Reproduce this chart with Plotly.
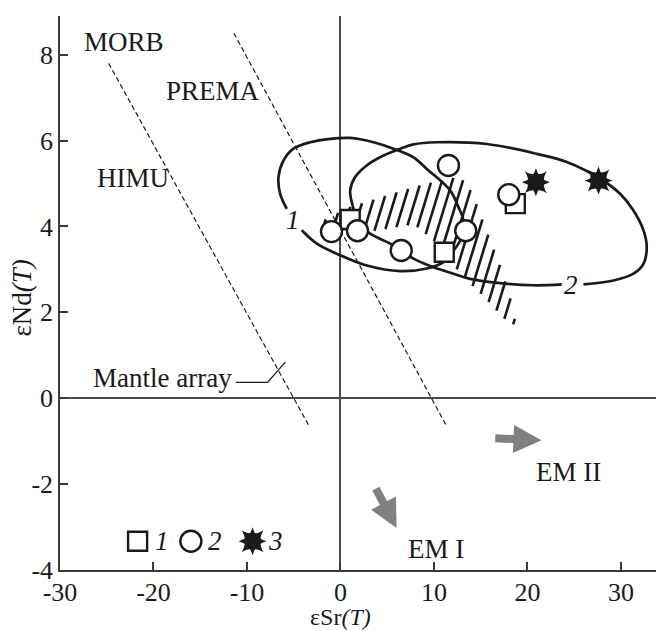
import math
import plotly.graph_objects as go

# ---------------- data ----------------
sq_x = [1.04, 11.1, 18.7]
sq_y = [4.16, 3.40, 4.53]
ci_x = [-0.96, 1.82, 6.5, 11.55, 13.4, 18.0]
ci_y = [3.88, 3.90, 3.44, 5.42, 3.90, 4.74]
st_x = [20.9, 27.6]
st_y = [5.03, 5.07]

ell1_x = [-5.74, -6.45, -6.63, -6.10, -5.03, -3.24, -1.10, 1.04, 3.53, 5.67, 7.81, 9.23,
          11.73, 12.62, 13.16, 13.16, 12.62, 11.02, 9.23, 6.39, 2.81, -0.03, -2.53, -4.14]
ell1_y = [4.41, 4.76, 5.15, 5.53, 5.81, 5.96, 6.04, 6.06, 5.96, 5.81, 5.61, 5.34,
          4.84, 4.45, 4.14, 3.83, 3.60, 3.17, 3.02, 2.96, 3.09, 3.33, 3.60, 3.91]

ell2_x = [23.67, 20.64, 17.08, 13.87, 12.09, 9.95, 7.81, 6.56, 5.32, 3.18, 1.93, 1.32, 1.04,
          1.57, 2.81, 4.60, 6.39, 7.81, 10.30, 15.65, 21.0, 24.2, 27.78, 29.91, 31.34, 32.41,
          32.76, 32.41, 31.34, 29.2, 25.99]
ell2_y = [2.65, 2.63, 2.68, 2.78, 2.90, 3.05, 3.25, 3.44, 3.60, 3.83, 4.09, 4.47, 4.84,
          5.15, 5.42, 5.65, 5.81, 5.91, 5.96, 5.92, 5.69, 5.50, 5.11, 4.76, 4.37, 3.91,
          3.52, 3.13, 2.90, 2.74, 2.65]

hatch_x = [-2.25, 0.86, 4.60, 8.88, 12.30, 13.48, 14.44, 15.72, 17.01, 18.18, 18.82,
           17.43, 15.29, 12.94, 11.87, 9.95, 7.81, 4.60, 1.93, -0.75]
hatch_y = [4.09, 4.44, 4.70, 4.98, 5.14, 5.05, 4.60, 3.86, 3.14, 2.35, 1.67,
           1.86, 2.37, 2.86, 3.16, 3.67, 4.05, 3.93, 3.84, 3.95]

morb_x = [-24.8, -3.4]
morb_y = [7.8, -0.63]
prema_x = [-11.4, 11.3]
prema_y = [8.5, -0.63]
leader_x = [-11.2, -7.8, -5.9]
leader_y = [0.37, 0.37, 0.84]

field_labels = ["MORB", "PREMA", "HIMU", "EM II", "EM I"]
field_lx = [-23.2, -13.6, -22.2, 24.4, 10.2]
field_ly = [8.3, 7.16, 5.12, -1.72, -3.51]

arrow_tail_x = [16.4, 3.7]
arrow_tail_y = [-0.93, -2.07]
arrow_tip_x = [21.5, 6.0]
arrow_tip_y = [-0.98, -3.02]

ell_labels = ["1", "2"]
ell_lx = [-5.10, 24.67]
ell_ly = [4.16, 2.63]

legend_labels = ["1", "2", "3"]
legend_mx = [-21.7, -16.0, -9.4]
legend_tx = [-19.1, -13.4, -7.0]
legend_y = -3.33

x_ticks = [-30, -20, -10, 0, 10, 20, 30]
x_ticktext = ["-30", "-20", "-10", "0", "10", "20", "30"]
y_ticks = [-4, -2, 0, 2, 4, 6, 8]
y_ticktext = ["-4", "-2", "0", "2", "4", "6", "8"]

# ---------------- layout geometry ----------------
W, H = 656, 630
ML, MR, MT, MB = 60, 0, 16, 60
XR = [-30, 33.75]
YR = [-4, 8.9]
sx = (W - ML - MR) / (XR[1] - XR[0])
sy = (H - MT - MB) / (YR[1] - YR[0])

FONT = "Liberation Serif"
INK = "#1a1a1a"
FS = 27
TFS = 26

# hatch lines clipped to the hatch polygon (computed in pixel space)
theta = math.radians(73)
spacing = 10.0
P = [(x * sx, y * sy) for x, y in zip(hatch_x, hatch_y)]
cvals = [px * math.sin(theta) - py * math.cos(theta) for px, py in P]
hx, hy = [], []
c = min(cvals) + spacing * 0.5
while c < max(cvals):
    pts = []
    n = len(P)
    for i in range(n):
        (x1, y1), (x2, y2) = P[i], P[(i + 1) % n]
        c1, c2 = cvals[i], cvals[(i + 1) % n]
        if (c1 - c) * (c2 - c) < 0:
            t = (c - c1) / (c2 - c1)
            pts.append((x1 + t * (x2 - x1), y1 + t * (y2 - y1)))
    pts.sort(key=lambda p: p[0] * math.cos(theta) + p[1] * math.sin(theta))
    for k in range(0, len(pts) - 1, 2):
        a, b = pts[k], pts[k + 1]
        hx += [a[0] / sx, b[0] / sx, None]
        hy += [a[1] / sy, b[1] / sy, None]
    c += spacing

fig = go.Figure()

fig.add_trace(go.Scatter(x=hx, y=hy, mode="lines", line=dict(color=INK, width=2.6),
                         hoverinfo="skip", showlegend=False))
for lx, ly in [(morb_x, morb_y), (prema_x, prema_y)]:
    fig.add_trace(go.Scatter(x=lx, y=ly, mode="lines",
                             line=dict(color=INK, width=1.2, dash="5px,3px"),
                             showlegend=False, hoverinfo="skip"))
fig.add_trace(go.Scatter(x=leader_x, y=leader_y, mode="lines",
                         line=dict(color=INK, width=1.3), showlegend=False))
for ex, ey in [(ell1_x, ell1_y), (ell2_x, ell2_y)]:
    fig.add_trace(go.Scatter(x=ex, y=ey, mode="lines",
                             line=dict(color=INK, width=2.7, shape="spline", smoothing=1.0),
                             showlegend=False, hoverinfo="skip"))

sq_style = dict(symbol="square", size=19, color="white", line=dict(color=INK, width=2.4))
ci_style = dict(symbol="circle", size=21, color="white", line=dict(color=INK, width=2.4))
st_size = 20
fig.add_trace(go.Scatter(x=sq_x, y=sq_y, mode="markers", marker=sq_style, showlegend=False))
fig.add_trace(go.Scatter(x=ci_x, y=ci_y, mode="markers", marker=ci_style, showlegend=False))
for sym in ["star-diamond", "star-square"]:
    fig.add_trace(go.Scatter(x=st_x, y=st_y, mode="markers",
                             marker=dict(symbol=sym, size=st_size, color=INK, line=dict(width=0)),
                             showlegend=False))

# legend marks
fig.add_trace(go.Scatter(x=[legend_mx[0]], y=[legend_y], mode="markers", marker=sq_style, showlegend=False))
fig.add_trace(go.Scatter(x=[legend_mx[1]], y=[legend_y], mode="markers", marker=ci_style, showlegend=False))
for sym in ["star-diamond", "star-square"]:
    fig.add_trace(go.Scatter(x=[legend_mx[2]], y=[legend_y], mode="markers",
                             marker=dict(symbol=sym, size=st_size, color=INK, line=dict(width=0)),
                             showlegend=False))

ann = []
for t, x, y in zip(field_labels, field_lx, field_ly):
    ann.append(dict(x=x, y=y, text=t, showarrow=False, font=dict(family=FONT, size=FS, color=INK)))
ann.append(dict(x=leader_x[0] - 0.2, y=leader_y[0] + 0.1, text="Mantle array", showarrow=False,
                xanchor="right", font=dict(family=FONT, size=FS, color=INK)))
for t, x, y in zip(ell_labels, ell_lx, ell_ly):
    ann.append(dict(x=x, y=y, text="<i>%s</i>" % t, showarrow=False, font=dict(family=FONT, size=FS, color=INK)))
for t, x in zip(legend_labels, legend_tx):
    ann.append(dict(x=x, y=legend_y, text="<i>%s</i>" % t, showarrow=False, font=dict(family=FONT, size=FS, color=INK)))
for tx, ty, hx_, hy_ in zip(arrow_tail_x, arrow_tail_y, arrow_tip_x, arrow_tip_y):
    ann.append(dict(x=hx_, y=hy_, ax=tx, ay=ty, axref="x", ayref="y", xref="x", yref="y",
                    text="", showarrow=True, arrowhead=2, arrowsize=0.7, arrowwidth=8,
                    arrowcolor="#808080"))
ann.append(dict(x=0, y=0, xref="x", yref="paper", yshift=-47, text="εSr<i>(T)</i>", showarrow=False,
                yanchor="middle", font=dict(family=FONT, size=24, color=INK)))
ann.append(dict(x=0, y=0.49, xref="paper", yref="paper", xshift=-38, text="εNd<i>(T)</i>", showarrow=False,
                textangle=-90, xanchor="center", font=dict(family=FONT, size=FS, color=INK)))

axis_common = dict(showgrid=False, showline=True, linecolor="#3a3a3a", linewidth=1.5,
                   ticks="inside", ticklen=8, tickwidth=1.5, tickcolor="#3a3a3a",
                   zeroline=True, zerolinecolor="#4a4a4a", zerolinewidth=1.5,
                   tickfont=dict(family=FONT, size=TFS, color=INK), mirror=False)

fig.update_layout(
    width=W, height=H, margin=dict(l=ML, r=MR, t=MT, b=MB),
    plot_bgcolor="white", paper_bgcolor="white", showlegend=False,
    xaxis=dict(range=XR, tickvals=x_ticks, ticktext=x_ticktext, ticklabelstandoff=-2, **axis_common),
    yaxis=dict(range=YR, tickvals=y_ticks, ticktext=y_ticktext, **axis_common),
    annotations=ann,
)
fig.write_html("out.html", config={"displayModeBar": False},
               post_script="document.body.style.margin='0';")
